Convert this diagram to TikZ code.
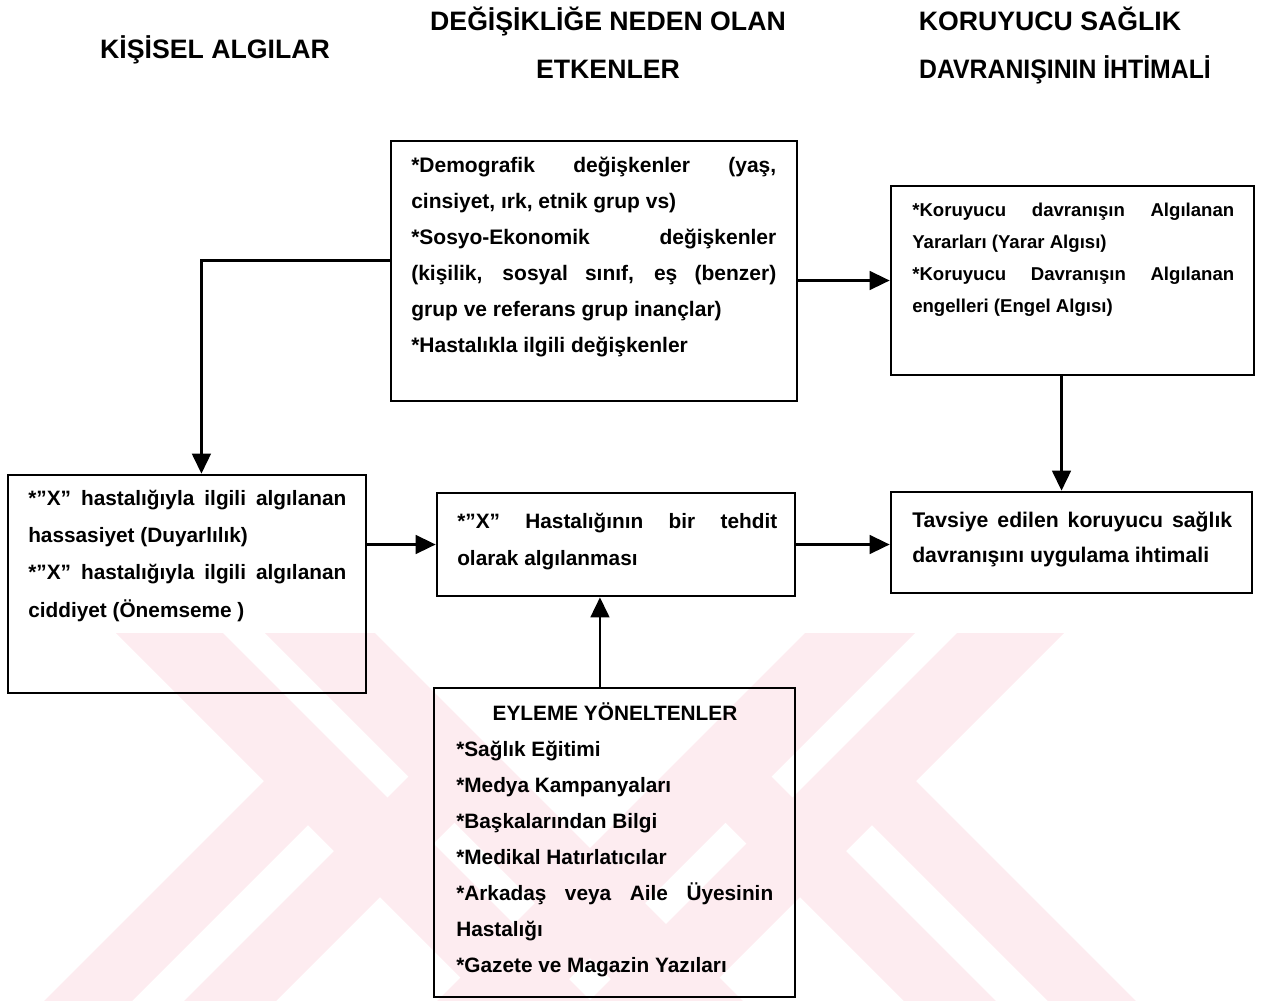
\documentclass[tikz,border=0pt]{standalone}
\usepackage{fontspec}
\setmainfont{Liberation Sans}
\usetikzlibrary{arrows.meta,fit,calc}
\definecolor{wmpink}{RGB}{253,236,240}
\newcommand{\jl}[1]{\makebox[\linewidth][s]{#1}}
\begin{document}
\begin{tikzpicture}[x=0.75pt,y=-0.75pt,
  box/.style={draw, line width=2pt, inner sep=0pt},
  arr/.style={line width=1.9pt, -{Triangle[length=15pt,width=14pt]}},
  txt/.style={inner sep=0pt, anchor=base west},
  head/.style={inner sep=0pt, anchor=base, font=\bfseries\fontsize{20}{24}\selectfont},
]
\useasboundingbox (0,0) rectangle (1264,1000);

% watermark
\begin{scope}
\clip (0,633) rectangle (1264,1000);
\fill[wmpink] (116,633) -- (223,633) -- (600,1010) -- (493,1010) -- cycle;
\fill[wmpink] (265,633) -- (375,633) -- (752,1010) -- (642,1010) -- cycle;
\fill[wmpink] (805,633) -- (915,633) -- (538,1010) -- (428,1010) -- cycle;
\fill[wmpink] (957,633) -- (1064,633) -- (687,1010) -- (580,1010) -- cycle;
\fill[wmpink] (843.5,796.5) -- (887.5,752.5) -- (1145,1010) -- (1057,1010) -- cycle;
\fill[wmpink] (701.5,798.5) -- (747.5,752.5) -- (1005,1010) -- (913,1010) -- cycle;
\fill[wmpink] (292.5,752.5) -- (336.5,796.5) -- (123,1010) -- (35,1010) -- cycle;
\fill[wmpink] (432.5,752.5) -- (478.5,798.5) -- (267,1010) -- (175,1010) -- cycle;
\end{scope}

% headings
\node[head] (h1) at (215,58) {KİŞİSEL ALGILAR};
\node[head] (h2) at (608,30) {DEĞİŞİKLİĞE NEDEN OLAN};
\node[head] (h3) at (608,78) {ETKENLER};
\node[head] (h4) at (1050,30) {KORUYUCU SAĞLIK};
\node[head] (h5) at (1065,78) {\scalebox{0.93}[1]{DAVRANIŞININ İHTİMALİ}};

% boxes
\node[box, fit={(391,141) (797,401)}] (demo) {};
\node[box, fit={(891,186) (1254,375)}] (kor) {};
\node[box, fit={(8,475) (366,693)}] (kis) {};
\node[box, fit={(437,493) (795,596)}] (teh) {};
\node[box, fit={(891,492) (1252,593)}] (tav) {};
\node[box, fit={(434,688) (795,997)}] (eyl) {};

% texts
\node[txt] (demotxt) at (411,172) {\parbox[t]{273.75pt}{\fontsize{15.75}{27}\selectfont\bfseries
\jl{*Demografik değişkenler (yaş,}\\{}
cinsiyet, ırk, etnik grup vs)\\{}
\jl{*Sosyo-Ekonomik değişkenler}\\{}
\jl{(kişilik, sosyal sınıf, eş (benzer)}\\{}
grup ve referans grup inançlar)\\{}
*Hastalıkla ilgili değişkenler}};

\node[txt] (kortxt) at (912,216) {\parbox[t]{241.5pt}{\fontsize{13.95}{24}\selectfont\bfseries
\jl{*Koruyucu davranışın Algılanan}\\{}
Yararları (Yarar Algısı)\\{}
\jl{*Koruyucu Davranışın Algılanan}\\{}
engelleri (Engel Algısı)}};

\node[txt] (kistxt) at (28,505) {\parbox[t]{238.5pt}{\fontsize{15.6}{28}\selectfont\bfseries
\jl{*”X” hastalığıyla ilgili algılanan}\\{}
hassasiyet (Duyarlılık)\\{}
\jl{*”X” hastalığıyla ilgili algılanan}\\{}
ciddiyet (Önemseme )}};

\node[txt] (tehtxt) at (457,528) {\parbox[t]{240pt}{\fontsize{15.6}{27.75}\selectfont\bfseries
\jl{*”X” Hastalığının bir tehdit}\\{}
olarak algılanması}};

\node[txt] (tavtxt) at (912,527) {\parbox[t]{240pt}{\fontsize{15.9}{26.25}\selectfont\bfseries
\jl{Tavsiye edilen koruyucu sağlık}\\{}
davranışını uygulama ihtimali}};

\node[inner sep=0pt, anchor=base, font=\bfseries\fontsize{15.6}{18}\selectfont] (eyltitle) at (615,720) {EYLEME YÖNELTENLER};
\node[txt] (eyltxt) at (456,756) {\parbox[t]{237.75pt}{\fontsize{15.6}{27.1}\selectfont\bfseries
*Sağlık Eğitimi\\{}
*Medya Kampanyaları\\{}
*Başkalarından Bilgi\\{}
*Medikal Hatırlatıcılar\\{}
\jl{*Arkadaş veya Aile Üyesinin}\\{}
Hastalığı\\{}
*Gazete ve Magazin Yazıları}};

% connectors
\coordinate (d1) at ($(demo.north west)!0.46!(demo.south west)$);
\coordinate (k1) at ($(kis.north west)!0.54!(kis.north east)$);
\coordinate (r1) at ($(kor.south west)!0.47!(kor.south east)$);
\coordinate (e1) at ($(eyl.north west)!0.46!(eyl.north east)$);
\draw[arr] (d1) -| (k1);
\draw[arr] (demo.east |- kor.west) -- (kor.west);
\draw[arr] (r1) -- (r1 |- tav.north);
\draw[arr] (kis.east |- teh.west) -- (teh.west);
\draw[arr] (teh.east) -- (teh.east -| tav.west);
\draw[arr] (e1) -- (e1 |- teh.south);
\end{tikzpicture}
\end{document}
